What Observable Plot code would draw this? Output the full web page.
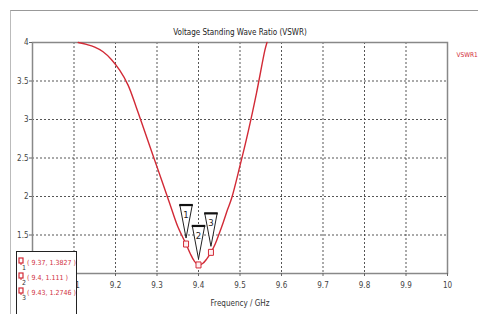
<!DOCTYPE html>
<html><head><meta charset="utf-8">
<script src="https://cdn.jsdelivr.net/npm/d3@7"></script>
<script src="https://cdn.jsdelivr.net/npm/@observablehq/plot@0.6"></script>
<style>
body{margin:0;background:#fff;}
#wrap{position:relative;width:478px;height:314px;overflow:hidden;font-family:"DejaVu Sans Condensed","DejaVu Sans",sans-serif;font-stretch:condensed;}
#chart svg{font-stretch:condensed;}
#frame{position:absolute;left:10px;top:10px;width:480px;height:320px;border-top:1px solid #999;border-left:1px solid #bbb;}
#chart{position:absolute;left:0;top:0;}
#legend{position:absolute;left:16px;top:251px;width:59px;height:70px;border:1px solid #222;background:#fff;}
.row{position:absolute;left:0;height:16px;font-size:7px;color:#d03040;white-space:nowrap;}
.row svg{position:absolute;left:1px;top:0;}
.row span.t{position:absolute;left:10px;top:4px;}
</style>
</head><body>
<div id="wrap"><div id="frame"></div><div id="chart"></div><div id="legend"></div></div>
<script>
const chartTitle = "Voltage Standing Wave Ratio (VSWR)";
const xTitle = "Frequency / GHz";
const seriesName = "VSWR1";
const xTicks = [9.0, 9.1, 9.2, 9.3, 9.4, 9.5, 9.6, 9.7, 9.8, 9.9, 10.0];
const xTickLabels = ["9", "9.1", "9.2", "9.3", "9.4", "9.5", "9.6", "9.7", "9.8", "9.9", "10"];
const yTicks = [1, 1.5, 2, 2.5, 3, 3.5, 4];
const yTickLabels = ["1", "1.5", "2", "2.5", "3", "3.5", "4"];
const freq = [9.11, 9.13, 9.15, 9.17, 9.19, 9.21, 9.23, 9.25, 9.27, 9.29, 9.31, 9.33, 9.35, 9.37, 9.38, 9.39, 9.40, 9.41, 9.42, 9.43, 9.44, 9.45, 9.46, 9.47, 9.48, 9.50, 9.52, 9.54, 9.56, 9.565];
const vswr = [4.0, 3.975, 3.94, 3.88, 3.78, 3.64, 3.45, 3.16, 2.85, 2.54, 2.23, 1.92, 1.61, 1.3827, 1.26, 1.16, 1.111, 1.13, 1.19, 1.2746, 1.38, 1.52, 1.67, 1.83, 1.98, 2.4, 2.85, 3.35, 3.9, 4.0];
const markerIds = ["1", "2", "3"];
const markerFreq = [9.37, 9.4, 9.43];
const markerVswr = [1.3827, 1.111, 1.2746];
const markerText = ["( 9.37, 1.3827 )", "( 9.4, 1.111 )", "( 9.43, 1.2746 )"];

const curve = freq.map((f, i) => ({f, v: vswr[i]}));
const markers = markerIds.map((n, i) => ({n, f: markerFreq[i], v: markerVswr[i]}));

const tri = {draw(c){ c.moveTo(0,-6); c.lineTo(-6.2,-39); c.lineTo(6.2,-39); c.closePath(); }};
const bar = {draw(c){ c.moveTo(-6.8,-39); c.lineTo(6.8,-39); }};
const sq = {draw(c){ c.rect(-2.5,-3,5,6); }};
const font = '"DejaVu Sans Condensed","DejaVu Sans",sans-serif';
const red = "#d22a36";

const chart = Plot.plot({
  width: 478, height: 314,
  marginTop: 42, marginLeft: 32, marginRight: 31, marginBottom: 41,
  style: {background: "transparent", fontFamily: font, fontSize: "8px", color: "#444"},
  x: {domain: [9, 10]},
  y: {domain: [1, 4]},
  marks: [
    Plot.gridX(xTicks.slice(1, -1), {stroke: "#444", strokeOpacity: 0.9, strokeDasharray: "2,2"}),
    Plot.gridY(yTicks.slice(1, -1), {stroke: "#444", strokeOpacity: 0.9, strokeDasharray: "2,2"}),
    Plot.frame({stroke: "#888", strokeWidth: 1.5}),
    Plot.axisX(xTicks, {tickSize: 3, tickPadding: 6, stroke: "#666", tickFormat: (d, i) => xTickLabels[i], label: null}),
    Plot.axisY(yTicks, {tickSize: 3, tickPadding: 1, stroke: "#666", tickFormat: (d, i) => yTickLabels[i], label: null}),
    Plot.line(curve, {x: "f", y: "v", stroke: red, strokeWidth: 1.4, curve: "catmull-rom"}),
    Plot.dot(markers, {x: "f", y: "v", symbol: tri, r: 1, fill: "white", stroke: "#222", strokeWidth: 1}),
    Plot.dot(markers, {x: "f", y: "v", symbol: bar, r: 1, stroke: "#111", strokeWidth: 2.2}),
    Plot.text(markers, {x: "f", y: "v", text: "n", dy: -29, fontSize: 9.5, fill: "#222"}),
    Plot.dot(markers, {x: "f", y: "v", symbol: sq, r: 1, fill: "#fff0f2", stroke: red, strokeWidth: 1}),
    Plot.text([chartTitle], {frameAnchor: "top", dy: -13, fontSize: 8, fill: "#222"}),
    Plot.text([xTitle], {frameAnchor: "bottom", dy: 32, fontSize: 8, fill: "#333"}),
    Plot.text([seriesName], {frameAnchor: "top-right", dx: 9, dy: 10, textAnchor: "start", fontSize: 6.5, fill: red})
  ]
});
document.getElementById("chart").appendChild(chart);

const lg = document.getElementById("legend");
markers.forEach((m, i) => {
  const row = document.createElement("div");
  row.className = "row";
  row.style.top = (3 + i * 15) + "px";
  row.innerHTML = `<svg width="9" height="16"><rect x="1" y="3" width="4" height="5" fill="#fff" stroke="${red}" stroke-width="1.2"/><line x1="3" y1="8" x2="3" y2="10" stroke="${red}"/><text x="4" y="15" font-size="7" fill="#333" font-family='${font}'>${m.n}</text></svg><span class="t">${markerText[i]}</span>`;
  lg.appendChild(row);
});
</script>
</body></html>
